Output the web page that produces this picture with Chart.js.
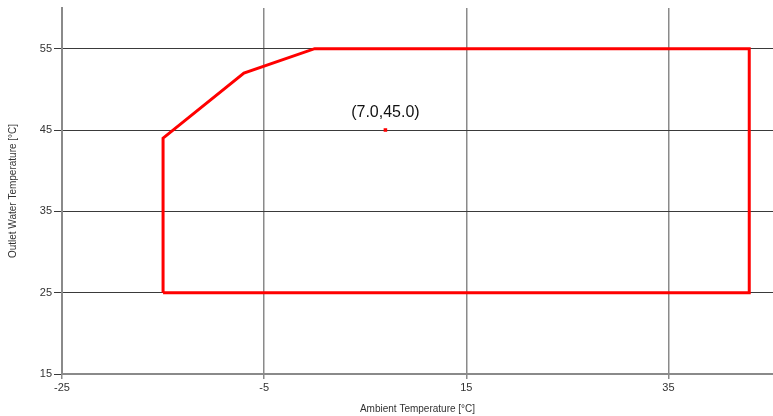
<!DOCTYPE html>
<html>
<head>
<meta charset="utf-8">
<script src="https://cdn.jsdelivr.net/npm/chart.js@4"></script>
<style>
  html, body { margin: 0; padding: 0; background: #fff; }
  canvas { display: block; }
</style>
</head>
<body>
<canvas id="c" width="773" height="416"></canvas>
<script>
// operating envelope (outline, closed)
const envelopeX = [-15, -15, -7, 0, 43, 43, -15];
const envelopeY = [25, 44, 52, 55, 55, 25, 25];

// current operating point
const pointX = [7];
const pointY = [45];
const pointLabels = ['(7.0,45.0)'];

const xTicks = [-25, -5, 15, 35];
const yTicks = [15, 25, 35, 45, 55];

const FONT = '"Liberation Sans", Arial, sans-serif';

const envelope = envelopeX.map((x, i) => ({ x, y: envelopeY[i] }));
const points = pointX.map((x, i) => ({ x, y: pointY[i], label: pointLabels[i] }));

// label above the operating point
const pointLabelPlugin = {
  id: 'pointLabel',
  afterDatasetsDraw(chart) {
    const ctx = chart.ctx;
    const xs = chart.scales.x, ys = chart.scales.y;
    ctx.save();
    ctx.font = '16px ' + FONT;
    ctx.fillStyle = '#111';
    ctx.textAlign = 'center';
    ctx.textBaseline = 'bottom';
    for (const p of points) {
      ctx.fillText(p.label, xs.getPixelForValue(p.x), ys.getPixelForValue(p.y) - 9);
    }
    ctx.restore();
  },
};

new Chart(document.getElementById('c'), {
  type: 'scatter',
  data: {
    datasets: [{
      data: envelope,
      showLine: true,
      borderColor: '#ff0000',
      borderWidth: 3,
      pointRadius: 0,
      fill: false,
      tension: 0,
    }, {
      data: points,
      pointStyle: 'rect',
      pointRadius: 2.5,
      pointBackgroundColor: '#ff0000',
      pointBorderColor: '#ff0000',
      pointBorderWidth: 0,
    }],
  },
  options: {
    responsive: false,
    animation: false,
    layout: { autoPadding: false, padding: { top: 8, right: 0, left: 0, bottom: 0 } },
    plugins: { legend: { display: false }, tooltip: { enabled: false } },
    scales: {
      x: {
        type: 'linear',
        min: -25,
        max: 45.35,
        afterBuildTicks: (s) => { s.ticks = xTicks.map((v) => ({ value: v })); },
        afterFit: (s) => { s.height = 42; s.paddingLeft = 0; s.paddingRight = 0; },
        ticks: {
          color: '#333',
          font: { family: FONT, size: 11 },
          padding: 2,
          maxRotation: 0,
        },
        grid: { color: '#8a8a8a', lineWidth: 1.5, tickLength: 5, tickColor: '#8a8a8a' },
        border: { color: '#8a8a8a', width: 2 },
        title: {
          display: true,
          text: 'Ambient Temperature [°C]',
          color: '#333',
          font: { family: FONT, size: 10 },
          padding: { top: 0, bottom: 1 },
        },
      },
      y: {
        type: 'linear',
        min: 15,
        max: 60,
        afterBuildTicks: (s) => { s.ticks = yTicks.map((v) => ({ value: v })); },
        afterFit: (s) => { s.width = 62; s.paddingTop = 0; s.paddingBottom = 0; },
        ticks: {
          color: '#333',
          font: { family: FONT, size: 11 },
          padding: 2,
        },
        grid: { color: '#3a3a3a', lineWidth: 1, tickLength: 8, tickColor: '#3a3a3a' },
        border: { color: '#8a8a8a', width: 2 },
        title: {
          display: true,
          text: 'Outlet Water Temperature [°C]',
          color: '#333',
          font: { family: FONT, size: 10 },
          padding: { top: 7, bottom: 0 },
        },
      },
    },
  },
  plugins: [pointLabelPlugin],
});
</script>
</body>
</html>
